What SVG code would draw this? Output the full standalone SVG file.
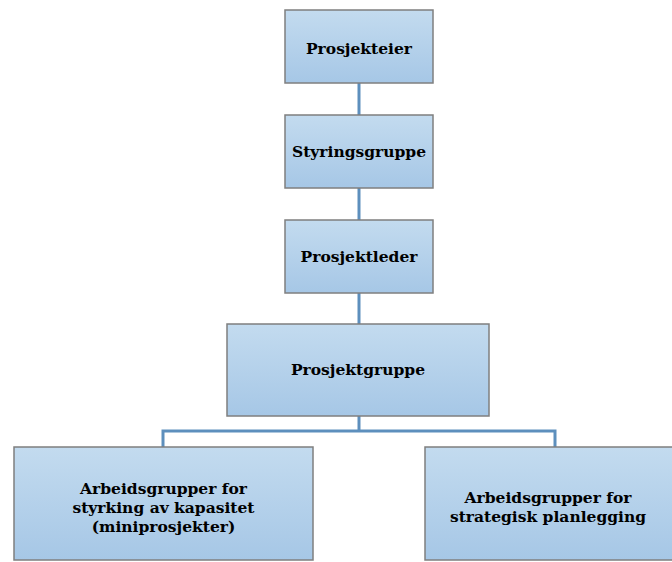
<svg xmlns="http://www.w3.org/2000/svg" width="672" height="562" viewBox="0 0 672 562">
  <defs>
    <linearGradient id="boxFill" x1="0" y1="0" x2="0" y2="1">
      <stop offset="0" stop-color="#c3dbef"/>
      <stop offset="1" stop-color="#a6c7e6"/>
    </linearGradient>
    <style>
      .box { fill: url(#boxFill); stroke: #7f7f7f; stroke-width: 1.5; }
      .link { fill: none; stroke: #5d8fbd; stroke-width: 3; }
      .label { font-family: "DejaVu Serif", "Liberation Serif", serif; font-weight: bold; font-size: 15.5px; fill: #000; text-anchor: middle; }
    </style>
  </defs>

  <g id="connectors">
    <line class="link" x1="359" y1="83" x2="359" y2="115"/>
    <line class="link" x1="359" y1="188" x2="359" y2="220"/>
    <line class="link" x1="359" y1="293" x2="359" y2="324"/>
    <line class="link" x1="359" y1="416" x2="359" y2="431"/>
    <polyline class="link" points="163,447 163,431 555,431 555,447"/>
  </g>

  <g id="prosjekteier">
    <rect class="box" x="285" y="10" width="148" height="73"/>
    <text class="label" x="359" y="54">Prosjekteier</text>
  </g>

  <g id="styringsgruppe">
    <rect class="box" x="285" y="115" width="148" height="73"/>
    <text class="label" x="359" y="157">Styringsgruppe</text>
  </g>

  <g id="prosjektleder">
    <rect class="box" x="285" y="220" width="148" height="73"/>
    <text class="label" x="359" y="262">Prosjektleder</text>
  </g>

  <g id="prosjektgruppe">
    <rect class="box" x="227" y="324" width="262" height="92"/>
    <text class="label" x="358" y="375">Prosjektgruppe</text>
  </g>

  <g id="arbeidsgrupper-kapasitet">
    <rect class="box" x="14" y="447" width="299" height="113"/>
    <text class="label" x="163.5" y="494">Arbeidsgrupper for</text>
    <text class="label" x="163.5" y="513">styrking av kapasitet</text>
    <text class="label" x="163.5" y="532">(miniprosjekter)</text>
  </g>

  <g id="arbeidsgrupper-strategisk">
    <rect class="box" x="425" y="447" width="260" height="113"/>
    <text class="label" x="548" y="503">Arbeidsgrupper for</text>
    <text class="label" x="548" y="522">strategisk planlegging</text>
  </g>
</svg>
